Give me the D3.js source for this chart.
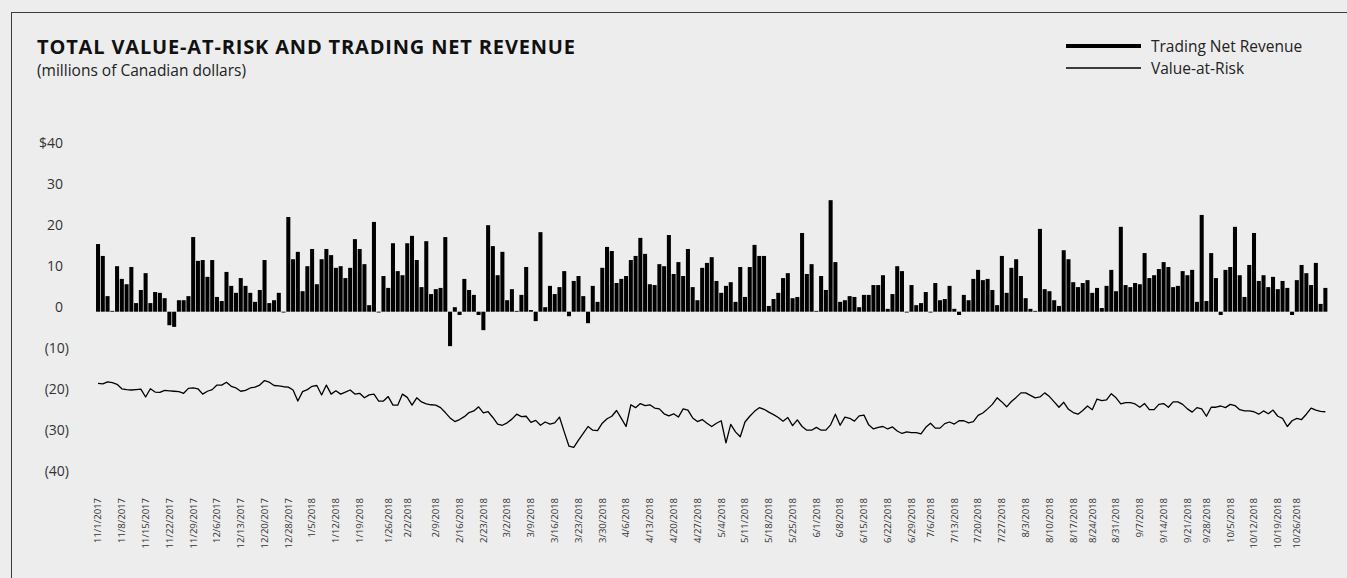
<!DOCTYPE html>
<html>
<head>
<meta charset="utf-8">
<script src="https://cdn.jsdelivr.net/npm/d3@7"></script>
<style>
	html, body { margin: 0; padding: 0; background: #ededed; }
	svg { display: block; font-family: 'Open Sans', 'Noto Sans', sans-serif; }
</style>
</head>
<body>
<svg width="1347" height="578"></svg>
<script>
// daily trading net revenue, 11/1/2017 .. 10/31/2018 (C$ millions)
let tradingRevenue = [
	16.5, 13.6, 3.8, 0.2, 11.1, 8.0, 6.7, 10.9, 2.1, 5.3, 9.4, 2.1, 4.8, 4.6, 3.3, -3.3, -3.7, 2.8, 2.8, 3.8,
	18.2, 12.4, 12.6, 8.5, 12.6, 3.6, 2.6, 9.7, 6.3, 4.6, 8.2, 6.3, 4.6, 2.4, 5.3, 12.6, 2.1, 2.8, 4.6, -0.2,
	23.1, 12.8, 14.6, 5.0, 11.1, 15.3, 6.7, 12.8, 15.3, 13.8, 10.7, 11.1, 8.2, 10.7, 17.7, 15.3,
	11.6, 1.6, 21.9, -0.2, 8.7, 5.8, 16.7, 9.9, 8.9, 16.7, 18.5, 12.6, 6.0, 17.2, 4.3, 5.5, 5.8, 18.2, -8.4, 1.1,
	-0.8, 8.0, 5.3, 4.1, -0.8, -4.5, 21.1, 16.0, 8.9, 14.6, 2.8, 5.5, 0.2, 4.1, 10.9, 0.4, -2.3, 19.4, 1.1, 6.3,
	4.3, 6.0, 9.9, -1.1, 7.5, 8.7, 3.8, -2.8, 6.3, 2.4, 10.7, 15.8, 14.8, 7.0, 8.0, 8.7, 12.6, 13.6, 18.0, 14.1,
	6.7, 6.5, 11.6, 11.1, 18.7, 9.2, 12.1, 8.7, 15.3, 6.0, 2.8,
	10.7, 11.9, 13.3, 7.5, 4.6, 6.3, 7.2, 2.4, 10.9, 3.6, 10.9, 16.3, 13.6, 13.6, 1.4, 3.1, 4.6, 8.2, 9.4, 3.3,
	3.6, 19.2, 9.2, 11.6, 0.2, 8.7, 5.3, 27.2, 12.1, 2.4, 2.8, 3.8, 3.6, 1.1, 4.1, 4.1, 6.5, 6.5, 8.9, 0.7,
	4.3, 11.1, 9.9, -0.2, 6.5, 1.6, 2.1, 4.8, -0.2, 7.0, 2.8, 3.1, 6.3, 0.7, -0.8, 4.1, 2.8, 8.0, 10.2, 7.7,
	8.0, 5.3, 1.6, 13.6, 4.6, 10.7, 12.8, 8.7, 3.3, 0.7, 0.2, 20.2,
	5.5, 5.0, 2.8, 1.4, 15.0, 12.8, 7.2, 6.0, 7.0, 7.7, 4.6, 5.8, 0.9, 6.3, 10.2, 5.0, 20.7, 6.5, 6.0, 7.0,
	6.7, 14.3, 8.2, 8.9, 10.4, 12.1, 10.9, 6.0, 6.3, 9.9, 8.9, 10.2, 2.4, 23.6, 2.6, 14.3, 8.2, -0.8, 10.2, 10.9,
	20.7, 8.9, 3.6, 11.4, 19.2, 7.5, 8.9, 6.0, 8.5, 5.5, 7.5, 5.8, -0.8, 7.7, 11.4, 9.4, 6.5, 11.9, 1.9, 5.8
];

// daily total value-at-risk (shown as negative)
let valueAtRisk = [
	-17.5, -17.6, -17.1, -17.3, -17.7, -18.8, -19.0, -19.1, -19.0, -18.9, -20.8, -18.8, -19.6, -19.7, -19.2, -19.3, -19.4, -19.5, -19.9, -18.7,
	-18.6, -18.8, -20.1, -19.4, -19.0, -17.9, -17.9, -17.2, -18.2, -18.6, -19.4, -19.2, -18.6, -18.4, -17.9, -16.8, -17.2, -18.0, -18.1, -18.3,
	-18.4, -19.1, -21.8, -19.5, -19.0, -18.2, -18.0, -20.3, -17.9, -20.1, -19.3, -20.1, -19.6, -19.1, -20.1, -19.9,
	-21.0, -20.3, -20.1, -21.8, -21.8, -20.7, -22.8, -22.8, -20.1, -20.9, -22.8, -21.0, -22.0, -22.5, -22.7, -22.8, -23.4, -24.6, -25.9, -26.8,
	-26.3, -25.6, -24.6, -24.2, -23.2, -24.7, -24.4, -25.8, -27.4, -27.7, -27.1, -26.2, -25.0, -25.6, -25.5, -27.0, -26.5, -27.7, -26.9, -27.4,
	-27.1, -25.7, -29.3, -32.8, -33.1, -31.3, -29.7, -28.0, -28.9, -29.0, -27.2, -26.1, -25.5, -24.1, -26.0, -28.0, -22.7, -23.4, -22.4, -22.9,
	-22.7, -23.5, -23.7, -24.9, -25.4, -24.9, -25.7, -23.7, -24.0, -25.9, -26.8,
	-26.3, -27.2, -28.0, -27.2, -26.6, -32.0, -27.5, -29.3, -30.5, -26.9, -25.5, -24.3, -23.4, -23.8, -24.5, -25.1, -25.8, -26.7, -25.8, -27.8,
	-26.4, -28.0, -28.9, -28.9, -28.2, -28.9, -28.9, -27.6, -25.0, -27.7, -25.7, -26.0, -26.7, -25.4, -25.2, -27.6, -28.6, -28.2, -28.0, -28.6,
	-28.1, -29.1, -29.7, -29.3, -29.5, -29.5, -29.8, -28.2, -27.2, -28.4, -28.4, -27.3, -26.9, -27.4, -26.6, -26.6, -27.1, -26.8, -25.3, -24.7,
	-23.7, -22.6, -21.0, -22.0, -23.2, -21.9, -20.9, -19.8, -19.8, -20.4, -21.0, -20.8,
	-19.8, -20.7, -22.0, -23.3, -22.1, -23.8, -24.6, -25.0, -24.1, -23.0, -23.9, -21.3, -21.7, -21.5, -20.0, -21.0, -22.5, -22.2, -22.2, -22.5,
	-23.3, -22.4, -23.9, -23.9, -22.6, -22.4, -23.3, -22.0, -22.0, -22.6, -23.7, -24.5, -23.4, -23.7, -25.5, -23.3, -23.3, -23.0, -23.4, -22.6,
	-22.9, -23.9, -24.2, -24.2, -24.4, -25.0, -24.2, -24.9, -24.0, -25.5, -26.0, -28.0, -26.6, -26.0, -26.3, -25.0, -23.5, -24.0, -24.3, -24.4
];

// weekly date labels and the trading day each one sits on
let tickLabels = [
	'11/1/2017', '11/8/2017', '11/15/2017', '11/22/2017', '11/29/2017', '12/6/2017', '12/13/2017', '12/20/2017', '12/28/2017',
	'1/5/2018', '1/12/2018', '1/19/2018', '1/26/2018', '2/2/2018', '2/9/2018', '2/16/2018', '2/23/2018', '3/2/2018', '3/9/2018',
	'3/16/2018', '3/23/2018', '3/30/2018', '4/6/2018', '4/13/2018', '4/20/2018', '4/27/2018', '5/4/2018', '5/11/2018', '5/18/2018',
	'5/25/2018', '6/1/2018', '6/8/2018', '6/15/2018', '6/22/2018', '6/29/2018', '7/6/2018', '7/13/2018', '7/20/2018', '7/27/2018',
	'8/3/2018', '8/10/2018', '8/17/2018', '8/24/2018', '8/31/2018', '9/7/2018', '9/14/2018', '9/21/2018', '9/28/2018', '10/5/2018',
	'10/12/2018', '10/19/2018', '10/26/2018'
];
let tickDay = [
	0, 5, 10, 15, 20, 25, 30, 35, 40, 45, 50, 55, 61, 65, 71, 76, 81, 86, 91, 96,
	101, 106, 111, 116, 121, 126, 131, 136, 141, 146, 151, 156, 161, 166, 171, 175, 180, 185, 190, 195,
	200, 205, 209, 214, 219, 224, 229, 233, 238, 243, 248, 252
];

let yTicks = [40, 30, 20, 10, 0, -10, -20, -30, -40];

let svg = d3.select('svg');
let n = Math.min(tradingRevenue.length, valueAtRisk.length);
let days = d3.range(n);

// frame
svg.append('rect')
	.attr('x', 11.5)
	.attr('y', 12.5)
	.attr('width', 1400)
	.attr('height', 600)
	.attr('fill', 'none')
	.attr('stroke', '#3a3a3a')
	.attr('stroke-width', 1);

// title
svg.append('text')
	.attr('x', 37)
	.attr('y', 54)
	.attr('font-size', 20)
	.attr('font-weight', 'bold')
	.attr('fill', '#111')
	.attr('textLength', 538)
	.attr('lengthAdjust', 'spacing')
	.text('TOTAL VALUE-AT-RISK AND TRADING NET REVENUE');

svg.append('text')
	.attr('x', 37)
	.attr('y', 76)
	.attr('font-size', 15.5)
	.attr('fill', '#222')
	.text('(millions of Canadian dollars)');

// legend
let legend = [
	{ name: 'Trading Net Revenue', width: 4, y: 46 },
	{ name: 'Value-at-Risk', width: 1.3, y: 68 }
];
let lg = svg.append('g');
lg.selectAll('line')
	.data(legend)
	.enter()
	.append('line')
	.attr('x1', 1066)
	.attr('x2', 1141)
	.attr('y1', d => d.y)
	.attr('y2', d => d.y)
	.attr('stroke', '#000')
	.attr('stroke-width', d => d.width);
lg.selectAll('text')
	.data(legend)
	.enter()
	.append('text')
	.attr('x', 1151)
	.attr('y', d => d.y + 5.5)
	.attr('font-size', 15.5)
	.attr('fill', '#222')
	.text(d => d.name);

// scales
let x = d3
	.scaleBand()
	.domain(days)
	.range([95.3, 1328.1])
	.padding(0.15);

let y = d3
	.scaleLinear()
	.domain([-40, 40])
	.range([475.7, 147.7]);

// y labels: baseline sits on the value, negatives in brackets
svg.append('g')
	.selectAll('text')
	.data(yTicks)
	.enter()
	.append('text')
	.attr('x', d => d < 0 ? 69 : 63)
	.attr('y', d => y(d))
	.attr('text-anchor', 'end')
	.attr('font-size', 14)
	.attr('fill', '#333')
	.text(d => d === 40 ? '$40' : (d < 0 ? '(' + (-d) + ')' : d));

// bars
svg.append('g')
	.selectAll('rect')
	.data(days)
	.enter()
	.append('rect')
	.attr('x', i => x(i))
	.attr('width', x.bandwidth())
	.attr('y', i => y(Math.max(0, tradingRevenue[i])))
	.attr('height', i => Math.abs(y(tradingRevenue[i]) - y(0)))
	.attr('fill', '#000');

// value-at-risk line
let varLine = d3.line()
	.x(i => x(i) + x.bandwidth() / 2)
	.y(i => y(valueAtRisk[i]));

svg.append('path')
	.datum(days)
	.attr('fill', 'none')
	.attr('stroke', '#000')
	.attr('stroke-width', 1.3)
	.attr('stroke-linejoin', 'round')
	.attr('d', varLine);

// x labels, rotated
svg.append('g')
	.selectAll('text')
	.data(tickLabels)
	.enter()
	.append('text')
	.attr('transform', (d, k) => 'translate(' + (x(tickDay[k]) + x.bandwidth() / 2) + ', 498) rotate(-90)')
	.attr('dy', '0.35em')
	.attr('text-anchor', 'end')
	.attr('font-size', 9.5)
	.attr('fill', '#333')
	.text(d => d);
</script>
</body>
</html>
